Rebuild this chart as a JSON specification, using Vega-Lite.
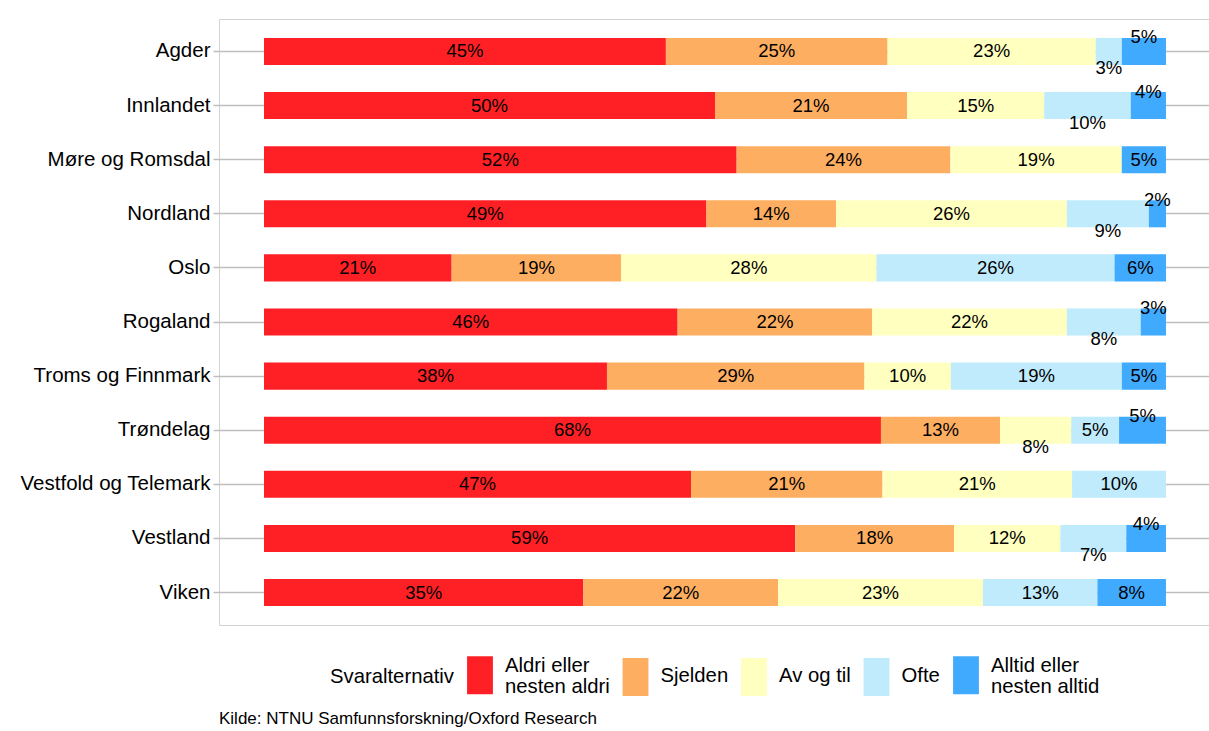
{
  "$schema": "https://vega.github.io/schema/vega-lite/v6.json",
  "width": 990,
  "height": 606,
  "autosize": {"type": "none"},
  "padding": {"left": 219, "top": 19, "right": 0, "bottom": 106},
  "background": "white",
  "config": {
    "font": "Liberation Sans",
    "view": {"stroke": "#D3D3D3", "strokeWidth": 1}
  },
  "title": {
    "text": "Kilde: NTNU Samfunnsforskning/Oxford Research",
    "orient": "bottom",
    "anchor": "start",
    "frame": "group",
    "fontSize": 17,
    "fontWeight": "normal",
    "color": "black",
    "offset": 13
  },
  "data": {
    "values": [
      {"region": "Agder", "cat": "Aldri eller nesten aldri", "order": 1, "v": 0.446},
      {"region": "Agder", "cat": "Sjelden", "order": 2, "v": 0.246},
      {"region": "Agder", "cat": "Av og til", "order": 3, "v": 0.231},
      {"region": "Agder", "cat": "Ofte", "order": 4, "v": 0.029},
      {"region": "Agder", "cat": "Alltid eller nesten alltid", "order": 5, "v": 0.049},
      {"region": "Innlandet", "cat": "Aldri eller nesten aldri", "order": 1, "v": 0.500},
      {"region": "Innlandet", "cat": "Sjelden", "order": 2, "v": 0.213},
      {"region": "Innlandet", "cat": "Av og til", "order": 3, "v": 0.152},
      {"region": "Innlandet", "cat": "Ofte", "order": 4, "v": 0.096},
      {"region": "Innlandet", "cat": "Alltid eller nesten alltid", "order": 5, "v": 0.039},
      {"region": "Møre og Romsdal", "cat": "Aldri eller nesten aldri", "order": 1, "v": 0.524},
      {"region": "Møre og Romsdal", "cat": "Sjelden", "order": 2, "v": 0.237},
      {"region": "Møre og Romsdal", "cat": "Av og til", "order": 3, "v": 0.190},
      {"region": "Møre og Romsdal", "cat": "Ofte", "order": 4, "v": 0.0},
      {"region": "Møre og Romsdal", "cat": "Alltid eller nesten alltid", "order": 5, "v": 0.049},
      {"region": "Nordland", "cat": "Aldri eller nesten aldri", "order": 1, "v": 0.491},
      {"region": "Nordland", "cat": "Sjelden", "order": 2, "v": 0.144},
      {"region": "Nordland", "cat": "Av og til", "order": 3, "v": 0.256},
      {"region": "Nordland", "cat": "Ofte", "order": 4, "v": 0.091},
      {"region": "Nordland", "cat": "Alltid eller nesten alltid", "order": 5, "v": 0.019},
      {"region": "Oslo", "cat": "Aldri eller nesten aldri", "order": 1, "v": 0.208},
      {"region": "Oslo", "cat": "Sjelden", "order": 2, "v": 0.188},
      {"region": "Oslo", "cat": "Av og til", "order": 3, "v": 0.283},
      {"region": "Oslo", "cat": "Ofte", "order": 4, "v": 0.264},
      {"region": "Oslo", "cat": "Alltid eller nesten alltid", "order": 5, "v": 0.057},
      {"region": "Rogaland", "cat": "Aldri eller nesten aldri", "order": 1, "v": 0.459},
      {"region": "Rogaland", "cat": "Sjelden", "order": 2, "v": 0.216},
      {"region": "Rogaland", "cat": "Av og til", "order": 3, "v": 0.216},
      {"region": "Rogaland", "cat": "Ofte", "order": 4, "v": 0.082},
      {"region": "Rogaland", "cat": "Alltid eller nesten alltid", "order": 5, "v": 0.028},
      {"region": "Troms og Finnmark", "cat": "Aldri eller nesten aldri", "order": 1, "v": 0.381},
      {"region": "Troms og Finnmark", "cat": "Sjelden", "order": 2, "v": 0.286},
      {"region": "Troms og Finnmark", "cat": "Av og til", "order": 3, "v": 0.096},
      {"region": "Troms og Finnmark", "cat": "Ofte", "order": 4, "v": 0.190},
      {"region": "Troms og Finnmark", "cat": "Alltid eller nesten alltid", "order": 5, "v": 0.049},
      {"region": "Trøndelag", "cat": "Aldri eller nesten aldri", "order": 1, "v": 0.684},
      {"region": "Trøndelag", "cat": "Sjelden", "order": 2, "v": 0.132},
      {"region": "Trøndelag", "cat": "Av og til", "order": 3, "v": 0.079},
      {"region": "Trøndelag", "cat": "Ofte", "order": 4, "v": 0.053},
      {"region": "Trøndelag", "cat": "Alltid eller nesten alltid", "order": 5, "v": 0.052},
      {"region": "Vestfold og Telemark", "cat": "Aldri eller nesten aldri", "order": 1, "v": 0.473},
      {"region": "Vestfold og Telemark", "cat": "Sjelden", "order": 2, "v": 0.212},
      {"region": "Vestfold og Telemark", "cat": "Av og til", "order": 3, "v": 0.210},
      {"region": "Vestfold og Telemark", "cat": "Ofte", "order": 4, "v": 0.104},
      {"region": "Vestfold og Telemark", "cat": "Alltid eller nesten alltid", "order": 5, "v": 0.0},
      {"region": "Vestland", "cat": "Aldri eller nesten aldri", "order": 1, "v": 0.589},
      {"region": "Vestland", "cat": "Sjelden", "order": 2, "v": 0.176},
      {"region": "Vestland", "cat": "Av og til", "order": 3, "v": 0.118},
      {"region": "Vestland", "cat": "Ofte", "order": 4, "v": 0.073},
      {"region": "Vestland", "cat": "Alltid eller nesten alltid", "order": 5, "v": 0.044},
      {"region": "Viken", "cat": "Aldri eller nesten aldri", "order": 1, "v": 0.354},
      {"region": "Viken", "cat": "Sjelden", "order": 2, "v": 0.216},
      {"region": "Viken", "cat": "Av og til", "order": 3, "v": 0.227},
      {"region": "Viken", "cat": "Ofte", "order": 4, "v": 0.127},
      {"region": "Viken", "cat": "Alltid eller nesten alltid", "order": 5, "v": 0.076}
    ]
  },
  "transform": [
    {"stack": "v", "groupby": ["region"], "sort": [{"field": "order", "order": "ascending"}], "offset": "normalize", "as": ["v0", "v1"]},
    {"calculate": "(datum.v0 + datum.v1) / 2", "as": "mid"}
  ],
  "encoding": {
    "y": {
      "field": "region",
      "type": "nominal",
      "sort": ["Agder", "Innlandet", "Møre og Romsdal", "Nordland", "Oslo", "Rogaland", "Troms og Finnmark", "Trøndelag", "Vestfold og Telemark", "Vestland", "Viken"],
      "scale": {"paddingInner": 0.5, "paddingOuter": 0.35},
      "axis": {
        "title": null,
        "domain": false,
        "grid": true,
        "gridColor": "#BEBEBE",
        "gridWidth": 1.5,
        "ticks": true,
        "tickColor": "#BEBEBE",
        "tickWidth": 1.5,
        "tickSize": 6,
        "labelFontSize": 20.5,
        "labelColor": "black",
        "labelPadding": 3,
        "labelLimit": 400
      }
    }
  },
  "layer": [
    {
      "mark": {"type": "bar"},
      "encoding": {
        "x": {
          "field": "v0",
          "type": "quantitative",
          "scale": {"domain": [-0.0499, 1.0477], "nice": false, "zero": false},
          "axis": null
        },
        "x2": {"field": "v1"},
        "color": {
          "field": "cat",
          "type": "nominal",
          "scale": {
            "domain": ["Aldri eller nesten aldri", "Sjelden", "Av og til", "Ofte", "Alltid eller nesten alltid"],
            "range": ["#FF2026", "#FDAE61", "#FFFFBF", "#BFEBFC", "#40AAFF"]
          },
          "legend": {
            "title": "Svaralternativ",
            "orient": "none",
            "legendX": 111,
            "legendY": 637,
            "direction": "horizontal",
            "titleOrient": "left",
            "titleFontSize": 20.3,
            "titleFontWeight": "normal",
            "titleColor": "black",
            "titlePadding": 7,
            "labelFontSize": 20.3,
            "labelColor": "black",
            "labelOffset": 6,
            "columnPadding": 6.5,
            "symbolType": "M-0.68,-1H0.68V1H-0.68Z",
            "symbolSize": 1444,
            "symbolStrokeWidth": 0,
            "symbolOpacity": 1,
            "labelExpr": "datum.label == 'Aldri eller nesten aldri' ? ['Aldri eller', 'nesten aldri'] : datum.label == 'Alltid eller nesten alltid' ? ['Alltid eller', 'nesten alltid'] : datum.label",
            "encode": {
              "labels": {
                "update": {
                  "lineHeight": {"value": 21},
                  "dy": {"signal": "datum.value == 'Aldri eller nesten aldri' || datum.value == 'Alltid eller nesten alltid' ? -9 : -1"}
                }
              }
            }
          }
        }
      }
    },
    {
      "transform": [
        {"filter": "datum.v > 0 && !(datum.order == 5 && indexof(['Agder','Innlandet','Nordland','Rogaland','Trøndelag','Vestland'], datum.region) >= 0) && !(datum.order == 4 && indexof(['Agder','Innlandet','Nordland','Rogaland','Vestland'], datum.region) >= 0) && !(datum.order == 3 && datum.region == 'Trøndelag')"}
      ],
      "mark": {"type": "text", "fontSize": 18.5, "color": "black", "align": "center", "baseline": "middle"},
      "encoding": {
        "x": {"field": "mid", "type": "quantitative"},
        "text": {"field": "v", "type": "quantitative", "format": ".0%"}
      }
    },
    {
      "transform": [
        {"filter": "datum.order == 5 && indexof(['Agder','Innlandet','Nordland','Rogaland','Trøndelag','Vestland'], datum.region) >= 0"}
      ],
      "mark": {"type": "text", "fontSize": 18.5, "color": "black", "align": "center", "baseline": "middle", "dy": -14},
      "encoding": {
        "x": {"field": "mid", "type": "quantitative"},
        "text": {"field": "v", "type": "quantitative", "format": ".0%"}
      }
    },
    {
      "transform": [
        {"filter": "(datum.order == 4 && indexof(['Agder','Innlandet','Nordland','Rogaland','Vestland'], datum.region) >= 0) || (datum.order == 3 && datum.region == 'Trøndelag')"}
      ],
      "mark": {"type": "text", "fontSize": 18.5, "color": "black", "align": "center", "baseline": "middle", "dy": 17},
      "encoding": {
        "x": {"field": "mid", "type": "quantitative"},
        "text": {"field": "v", "type": "quantitative", "format": ".0%"}
      }
    }
  ]
}
